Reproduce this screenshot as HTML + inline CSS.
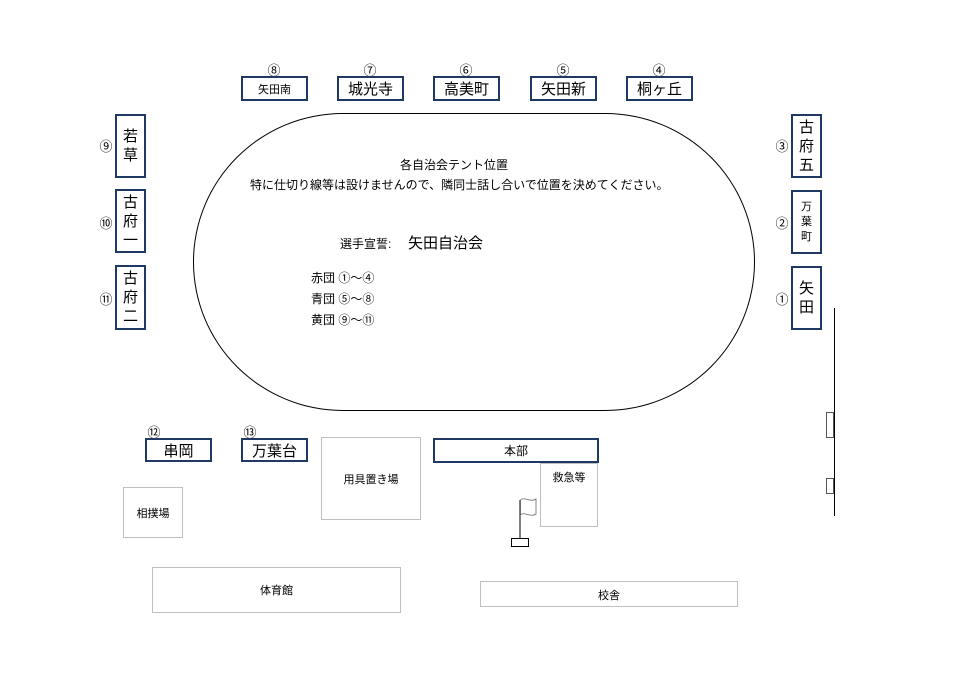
<!DOCTYPE html>
<html><head><meta charset="utf-8"><style>
body{margin:0;width:965px;height:682px;background:#fff;position:relative;overflow:hidden;font-family:"Liberation Sans","Noto Sans CJK JP",sans-serif;color:#000}
.a{position:absolute}
.b{position:absolute;border:2.5px solid #1f3864;box-sizing:border-box;display:flex;align-items:center;justify-content:center;font-size:15px;background:#fff}
.v{flex-direction:column;line-height:19px;font-size:15px}
.g{position:absolute;border:1px solid #bfbfbf;box-sizing:border-box;font-size:11px;display:flex;justify-content:center;background:#fff}
.n{position:absolute;font-size:13px;width:20px;text-align:center}
.t{position:absolute;font-size:11px;white-space:nowrap}
</style></head><body>
<div class="a" style="left:193px;top:113px;width:562px;height:298px;border:1px solid #000;border-radius:150px/149px;box-sizing:border-box"></div>

<div class="n" style="left:264px;top:60px">⑧</div><div class="b" style="left:241px;top:76px;width:67px;height:25px;font-size:11px">矢田南</div>
<div class="n" style="left:360px;top:60px">⑦</div><div class="b" style="left:337px;top:76px;width:67px;height:25px">城光寺</div>
<div class="n" style="left:456px;top:60px">⑥</div><div class="b" style="left:433px;top:76px;width:67px;height:25px">高美町</div>
<div class="n" style="left:553px;top:60px">⑤</div><div class="b" style="left:530px;top:76px;width:67px;height:25px">矢田新</div>
<div class="n" style="left:649px;top:60px">④</div><div class="b" style="left:626px;top:76px;width:67px;height:25px">桐ヶ丘</div>

<div class="n" style="left:96px;top:136px">⑨</div><div class="b v" style="left:115px;top:114px;width:31px;height:64px">若<br>草</div>
<div class="n" style="left:96px;top:213px">⑩</div><div class="b v" style="left:115px;top:189px;width:31px;height:64px">古<br>府<br>一</div>
<div class="n" style="left:96px;top:289px">⑪</div><div class="b v" style="left:115px;top:265px;width:31px;height:65px">古<br>府<br>二</div>

<div class="n" style="left:772px;top:136px">③</div><div class="b v" style="left:791px;top:114px;width:31px;height:64px">古<br>府<br>五</div>
<div class="n" style="left:772px;top:213px">②</div><div class="b v" style="left:791px;top:190px;width:31px;height:64px;font-size:11px;line-height:15px">万<br>葉<br>町</div>
<div class="n" style="left:772px;top:289px">①</div><div class="b v" style="left:791px;top:266px;width:31px;height:64px">矢<br>田</div>

<div class="t" style="left:400px;top:156px;font-size:12px">各自治会テント位置</div>
<div class="t" style="left:250px;top:176px;font-size:12px">特に仕切り線等は設けませんので、隣同士話し合いで位置を決めてください。</div>
<div class="t" style="left:340px;top:235px;font-size:12px">選手宣誓:</div>
<div class="t" style="left:408px;top:232px;font-size:15px">矢田自治会</div>
<div class="t" style="left:311px;top:269px;font-size:12px">赤団 ①～④</div>
<div class="t" style="left:311px;top:290px;font-size:12px">青団 ⑤～⑧</div>
<div class="t" style="left:311px;top:311px;font-size:12px">黄団 ⑨～⑪</div>

<div class="n" style="left:144px;top:422px">⑫</div><div class="b" style="left:145px;top:438px;width:67px;height:24px">串岡</div>
<div class="n" style="left:240px;top:422px">⑬</div><div class="b" style="left:241px;top:438px;width:67px;height:24px">万葉台</div>
<div class="b" style="left:433px;top:438px;width:166px;height:25px;font-size:12px">本部</div>

<div class="g" style="left:321px;top:437px;width:100px;height:83px;padding-top:33px">用具置き場</div>
<div class="g" style="left:540px;top:463px;width:58px;height:64px;padding-top:5px">救急等</div>
<div class="g" style="left:123px;top:487px;width:60px;height:51px;padding-top:17px">相撲場</div>
<div class="g" style="left:152px;top:567px;width:249px;height:46px;padding-top:14px">体育館</div>
<div class="g" style="left:480px;top:581px;width:258px;height:26px;padding-top:5px">校舎</div>

<svg class="a" style="left:0;top:0" width="965" height="682">
<line x1="520" y1="500" x2="520" y2="538" stroke="#000" stroke-width="1"/>
<rect x="511.5" y="538.5" width="17" height="8" fill="none" stroke="#000"/>
<path d="M520.5 500 C524 496,530 503,536 499 L536 514 C530 518,524 511,520.5 515 Z" fill="#fff" stroke="#666" stroke-width="0.8"/>
<line x1="834.5" y1="308" x2="834.5" y2="516" stroke="#000"/>
<rect x="826.5" y="412.5" width="7" height="25" fill="#fff" stroke="#555"/>
<rect x="826.5" y="478.5" width="7" height="15" fill="#fff" stroke="#555"/>
</svg>
</body></html>
